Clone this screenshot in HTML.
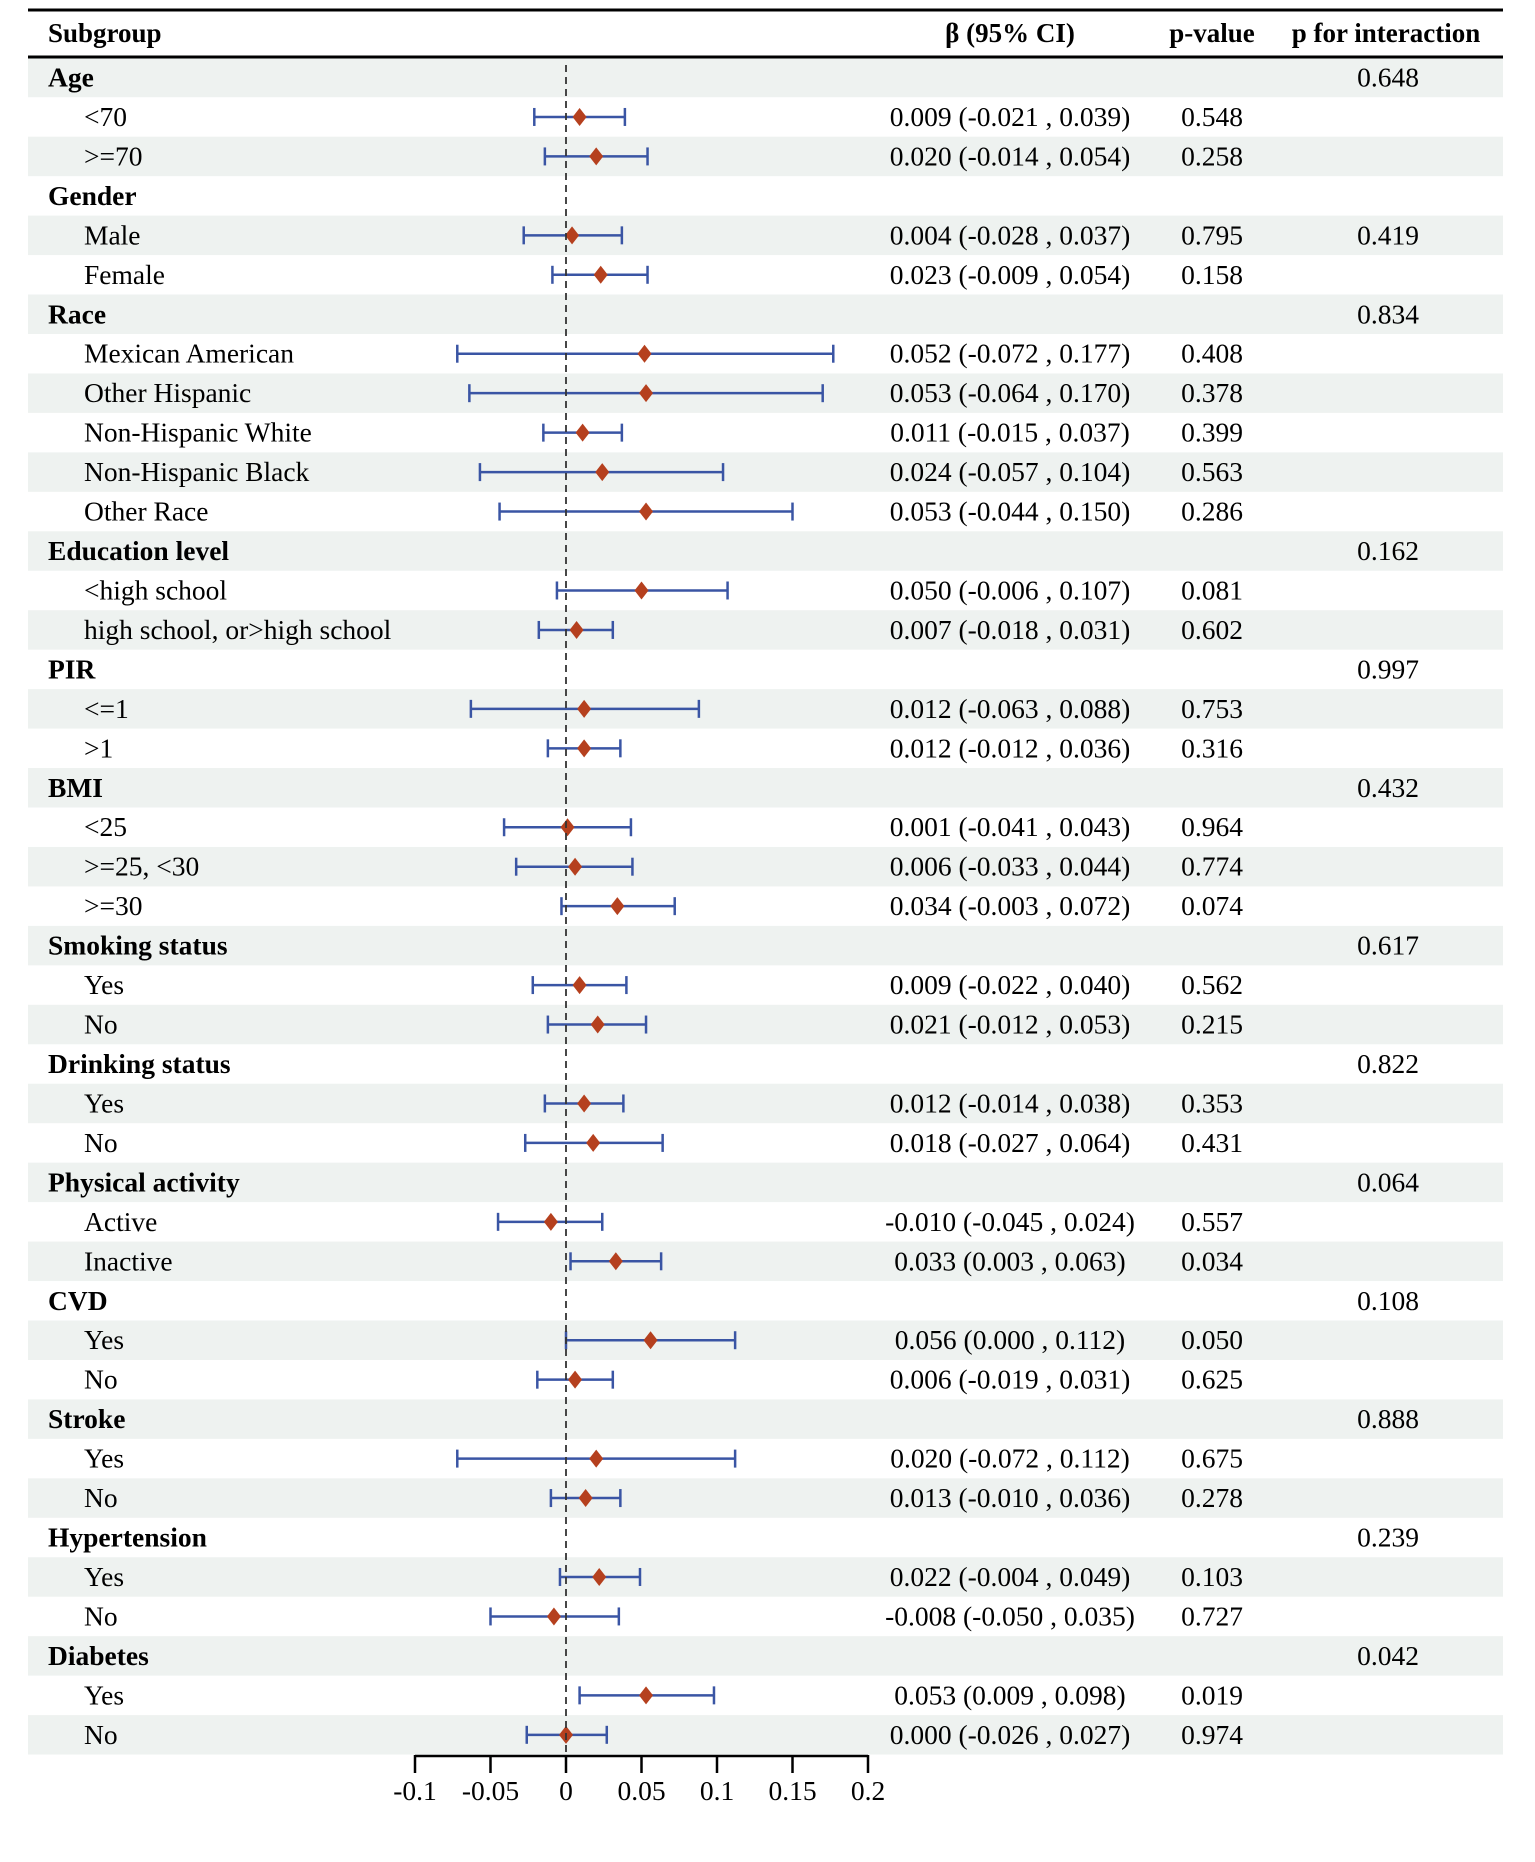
<!DOCTYPE html>
<html><head><meta charset="utf-8"><style>
html,body{margin:0;padding:0;background:#fff;}
svg{display:block;font-family:"Liberation Serif",serif;}
</style></head><body>
<svg id="chart" width="1535" height="1862" viewBox="0 0 1535 1862" xmlns="http://www.w3.org/2000/svg">
<g id="bands"></g>
<line x1="28" x2="1503" y1="10" y2="10" stroke="#000" stroke-width="3"/>
<line x1="28" x2="1503" y1="57" y2="57" stroke="#000" stroke-width="3"/>
<text x="48" y="42" font-size="27" font-weight="bold">Subgroup</text>
<text x="1010" y="42" font-size="27" font-weight="bold" text-anchor="middle">β (95% CI)</text>
<text x="1212" y="42" font-size="27" font-weight="bold" text-anchor="middle">p-value</text>
<text x="1386" y="42" font-size="27" font-weight="bold" text-anchor="middle">p for interaction</text>
<g id="rows"></g>
<g id="marks"></g>
<g id="axis"></g>
</svg>
<script>
const labels=["Age","<70",">=70","Gender","Male","Female","Race","Mexican American","Other Hispanic","Non-Hispanic White","Non-Hispanic Black","Other Race","Education level","<high school","high school, or>high school","PIR","<=1",">1","BMI","<25",">=25, <30",">=30","Smoking status","Yes","No","Drinking status","Yes","No","Physical activity","Active","Inactive","CVD","Yes","No","Stroke","Yes","No","Hypertension","Yes","No","Diabetes","Yes","No"];
const isHeader=[1,0,0,1,0,0,1,0,0,0,0,0,1,0,0,1,0,0,1,0,0,0,1,0,0,1,0,0,1,0,0,1,0,0,1,0,0,1,0,0,1,0,0];
const est=[null,0.009,0.020,null,0.004,0.023,null,0.052,0.053,0.011,0.024,0.053,null,0.050,0.007,null,0.012,0.012,null,0.001,0.006,0.034,null,0.009,0.021,null,0.012,0.018,null,-0.010,0.033,null,0.056,0.006,null,0.020,0.013,null,0.022,-0.008,null,0.053,0.000];
const lo=[null,-0.021,-0.014,null,-0.028,-0.009,null,-0.072,-0.064,-0.015,-0.057,-0.044,null,-0.006,-0.018,null,-0.063,-0.012,null,-0.041,-0.033,-0.003,null,-0.022,-0.012,null,-0.014,-0.027,null,-0.045,0.003,null,0.000,-0.019,null,-0.072,-0.010,null,-0.004,-0.050,null,0.009,-0.026];
const hi=[null,0.039,0.054,null,0.037,0.054,null,0.177,0.170,0.037,0.104,0.150,null,0.107,0.031,null,0.088,0.036,null,0.043,0.044,0.072,null,0.040,0.053,null,0.038,0.064,null,0.024,0.063,null,0.112,0.031,null,0.112,0.036,null,0.049,0.035,null,0.098,0.027];
const pval=["","0.548","0.258","","0.795","0.158","","0.408","0.378","0.399","0.563","0.286","","0.081","0.602","","0.753","0.316","","0.964","0.774","0.074","","0.562","0.215","","0.353","0.431","","0.557","0.034","","0.050","0.625","","0.675","0.278","","0.103","0.727","","0.019","0.974"];
const pint=["0.648","","","","0.419","","0.834","","","","","","0.162","","","0.997","","","0.432","","","","0.617","","","0.822","","","0.064","","","0.108","","","0.888","","","0.239","","","0.042","",""];
const ticks=[-0.1,-0.05,0,0.05,0.1,0.15,0.2];
const tickLabels=["-0.1","-0.05","0","0.05","0.1","0.15","0.2"];

const NS="http://www.w3.org/2000/svg";
const x0=566, scale=1510;
const X=v=>x0+v*scale;
const rowH=39.46, y0=77.5;
const Y=i=>y0+i*rowH;
const FS=27.5;
function mk(tag,attrs,parent,txt){const e=document.createElementNS(NS,tag);for(const k in attrs)e.setAttribute(k,attrs[k]);if(txt!==undefined)e.textContent=txt;parent.appendChild(e);return e;}
const bands=document.getElementById('bands'),rows=document.getElementById('rows'),marks=document.getElementById('marks'),axis=document.getElementById('axis');
labels.forEach((l,i)=>{
  const y=Y(i);
  if(i%2===0){const b=mk('rect',{x:28,y:y-rowH/2,width:1475,height:rowH,fill:'#eef2f0'},bands);
    
    }
  const t=mk('text',{x:isHeader[i]?48:84,y:y+9,'font-size':FS,'font-weight':isHeader[i]?'bold':'normal'},rows,l);
  
  
  if(est[i]!==null){
    const f=v=>(v<0?'-':'')+Math.abs(v).toFixed(3);
    const bt=mk('text',{x:1010,y:y+9,'font-size':FS,'text-anchor':'middle'},rows,f(est[i])+' ('+f(lo[i])+' , '+f(hi[i])+')');
    
    
    const g=mk('g',{},marks);
    
    
    mk('line',{x1:X(lo[i]),x2:X(hi[i]),y1:y,y2:y,stroke:'#3a55a4','stroke-width':2.5},g);
    mk('line',{x1:X(lo[i]),x2:X(lo[i]),y1:y-9,y2:y+9,stroke:'#3a55a4','stroke-width':2.5},g);
    mk('line',{x1:X(hi[i]),x2:X(hi[i]),y1:y-9,y2:y+9,stroke:'#3a55a4','stroke-width':2.5},g);
    const cx=X(est[i]);
    const d=mk('polygon',{points:`${cx-7},${y} ${cx},${y-9} ${cx+7},${y} ${cx},${y+9}`,fill:'#b5401e'},marks);
    
    
  }
  if(pval[i]){const p=mk('text',{x:1212,y:y+9,'font-size':FS,'text-anchor':'middle'},rows,pval[i]);
    
    }
  if(pint[i]){const p=mk('text',{x:1388,y:y+9,'font-size':FS,'text-anchor':'middle'},rows,pint[i]);
    
    }
});
const ref=mk('line',{x1:X(0),x2:X(0),y1:65,y2:1756,stroke:'#333','stroke-width':1.8,'stroke-dasharray':'7,5'},marks);


const ax=mk('line',{x1:X(ticks[0]),x2:X(ticks[ticks.length-1]),y1:1756,y2:1756,stroke:'#000','stroke-width':2.5},axis);


ticks.forEach((v,k)=>{
  const tk=mk('line',{x1:X(v),x2:X(v),y1:1755,y2:1773,stroke:'#000','stroke-width':2.5},axis);
  
  
  const tl=mk('text',{x:X(v),y:1800,'font-size':FS,'text-anchor':'middle'},axis,tickLabels[k]);
  
  
});
</script>
</body></html>
